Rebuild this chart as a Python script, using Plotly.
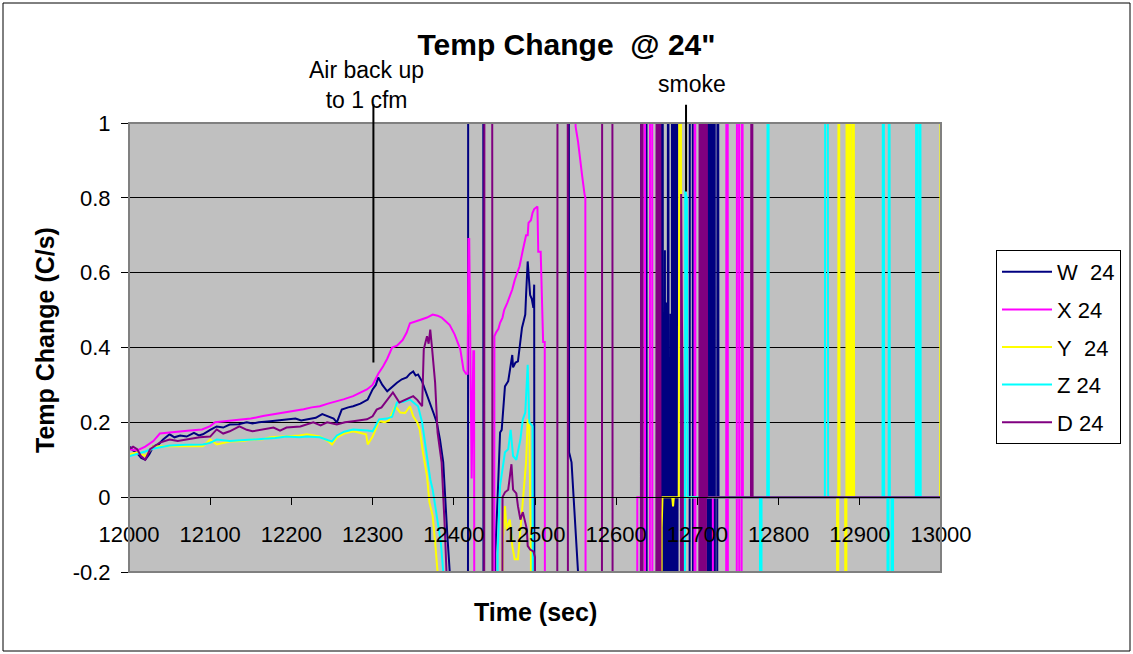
import plotly.graph_objects as go

# (time s, rate C/s); +/-3 marks readings that run off the scale, None breaks the line
W_24 = [
    (12000, 0.136), (12005, 0.125), (12010, 0.118), (12015, 0.105), (12020, 0.100), (12025, 0.115),
    (12030, 0.136), (12036, 0.140), (12042, 0.154), (12050, 0.168), (12056, 0.160), (12063, 0.165),
    (12071, 0.162), (12080, 0.172), (12086, 0.165), (12091, 0.168), (12100, 0.180), (12108, 0.189),
    (12116, 0.186), (12124, 0.194), (12135, 0.195), (12145, 0.200), (12152, 0.197), (12160, 0.200),
    (12174, 0.203), (12185, 0.205), (12194, 0.208), (12205, 0.210), (12212, 0.205), (12219, 0.208),
    (12230, 0.212), (12238, 0.222), (12244, 0.216), (12252, 0.210), (12256, 0.200), (12262, 0.234),
    (12270, 0.240), (12276, 0.243), (12285, 0.250), (12290, 0.255), (12294, 0.261), (12300, 0.288),
    (12304, 0.300), (12307, 0.320), (12312, 0.300), (12318, 0.283), (12324, 0.295), (12330, 0.306),
    (12336, 0.315), (12342, 0.320), (12346, 0.330), (12350, 0.336), (12353, 0.325), (12356, 0.328),
    (12361, 0.309), (12366, 0.280), (12371, 0.253), (12375, 0.225), (12379, 0.200), (12383, 0.154),
    (12387, 0.093), (12389, 0.000), (12392, -0.100), (12395, -0.200), (12397, -3),
    (12417, -3), (12418, 3), (12436, 3), (12437, -3),
    (12450, -3), (12451, -0.150), (12454, 0.000), (12457, 0.173), (12459, 0.180), (12461, 0.253),
    (12463, 0.296), (12467, 0.310), (12470, 0.360), (12472, 0.380), (12473, 0.347), (12476, 0.360),
    (12479, 0.363), (12482, 0.416), (12484, 0.453), (12486, 0.470), (12488, 0.488), (12489, 0.540),
    (12491, 0.630), (12494, 0.540), (12496, 0.530), (12498, 0.506), (12499, 0.568), (12500, -3),
    (12520, None),
    (12541, 3), (12542, 0.120), (12545, 0.093), (12549, -0.040), (12553, -0.200), (12555, -3),
    (12630, -3), (12631, 3), (12637, 3), (12638, -3), (12653, -3), (12654, 3), (12655, 3), (12656, -3),
    (12657, 3), (12658, -3), (12660, 0.66), (12661, -3), (12662, 0.52), (12663, -3), (12664, 3),
    (12665, -3), (12667, 0.49), (12668, -3), (12669, 3), (12670, 3), (12671, -3), (12672, 3),
    (12673, -3), (12675, 3), (12676, -3), (12690, -3), (12691, 3), (12694, 3), (12695, -3),
    (12712, -3), (12713, 3), (12714, -3), (12715, 3), (12716, -3), (12717, 3), (12718, -3),
    (12719, 3), (12720, -3), (12721, 3), (12722, -3), (12724, -3), (12725, 3), (12726, 0),
    (13000, 0),
]

X_24 = [
    (12000, 0.128), (12010, 0.125), (12020, 0.135), (12030, 0.150), (12038, 0.170), (12050, 0.172),
    (12060, 0.175), (12075, 0.178), (12090, 0.181), (12100, 0.190), (12106, 0.200), (12120, 0.203),
    (12135, 0.207), (12150, 0.210), (12165, 0.217), (12180, 0.222), (12194, 0.226), (12205, 0.230),
    (12215, 0.235), (12225, 0.240), (12235, 0.243), (12245, 0.250), (12255, 0.255), (12265, 0.262),
    (12276, 0.270), (12285, 0.280), (12293, 0.288), (12300, 0.300), (12307, 0.330), (12313, 0.350),
    (12318, 0.370), (12324, 0.400), (12330, 0.405), (12337, 0.420), (12342, 0.440), (12346, 0.465),
    (12352, 0.470), (12360, 0.475), (12367, 0.480), (12374, 0.488), (12380, 0.485), (12385, 0.480),
    (12390, 0.470), (12395, 0.460), (12401, 0.435), (12405, 0.410), (12408, 0.395), (12412, 0.340),
    (12415, 0.330), (12417, 0.330), (12418, 0.690), (12419, 0.690), (12420, 0.460), (12422, 0.050),
    (12424, 0.390), (12425, 0.390), (12426, -3),
    (12449, -3), (12450, 0.430), (12452, 0.440), (12455, 0.450), (12457, 0.466), (12460, 0.480),
    (12462, 0.500), (12466, 0.520), (12469, 0.537), (12472, 0.555), (12475, 0.580), (12478, 0.600),
    (12481, 0.617), (12485, 0.660), (12487, 0.680), (12489, 0.700), (12491, 0.700), (12492, 0.733),
    (12495, 0.740), (12497, 0.760), (12499, 0.770), (12502, 0.777), (12503, 0.777), (12504, 0.656),
    (12507, 0.656), (12510, 0.415), (12512, 0.415), (12513, -3),
    (12530, None),
    (12546, 3), (12550, 0.990), (12553, 0.950), (12555, 0.910), (12558, 0.860), (12561, 0.810),
    (12562, 0.800), (12563, -3),
    (12625, -3), (12626, 0), (12632, 0), (12633, 3), (12635, 3), (12636, -3), (12641, -3), (12642, 3),
    (12644, 3), (12645, -3), (12696, -3), (12697, 3), (12698, -3), (12702, -3), (12703, 0),
    (12719, 0), (12720, -3), (12735, -3), (12736, 3), (12737, 3), (12738, -3), (12748, -3),
    (12749, 3), (12751, 3), (12752, -3), (12754, -3), (12755, 3), (12756, 0), (13000, 0),
]

Y_24 = [
    (12000, 0.114), (12010, 0.120), (12020, 0.110), (12030, 0.136), (12050, 0.136), (12070, 0.136),
    (12091, 0.136), (12100, 0.154), (12108, 0.141), (12124, 0.149), (12140, 0.150), (12152, 0.154),
    (12165, 0.155), (12174, 0.160), (12194, 0.162), (12210, 0.165), (12219, 0.168), (12235, 0.162),
    (12245, 0.150), (12250, 0.141), (12256, 0.160), (12265, 0.170), (12276, 0.176), (12285, 0.172),
    (12292, 0.168), (12294, 0.141), (12297, 0.150), (12300, 0.162), (12308, 0.203), (12315, 0.200),
    (12320, 0.205), (12328, 0.243), (12334, 0.226), (12340, 0.225), (12346, 0.243), (12350, 0.216),
    (12355, 0.200), (12358, 0.181), (12362, 0.120), (12367, 0.056), (12370, -0.014), (12374, -0.050),
    (12377, -0.120), (12380, -0.200), (12382, -3),
    (12458, -3), (12460, -0.130), (12463, -0.024), (12465, -0.086), (12469, -0.060), (12472, -0.130),
    (12475, -0.166), (12479, -0.166), (12484, -0.040), (12488, 0.048), (12489, 0.093), (12491, 0.208),
    (12493, 0.190), (12495, -0.160), (12496, -3),
    (12655, -3), (12656, -0.080), (12657, 0), (12669, 0), (12670, -0.025), (12671, 0), (12677, 0),
    (12679, 3), (12680, 0.470), (12681, 0), (12872, 0), (12873, -3), (12874, 3), (12875, 0),
    (12882, 0), (12883, -3), (12884, 3), (12885, 3), (12886, 0), (12887, 0), (12888, 3), (12889, 0),
    (12891, 0), (12892, 3), (12893, 0), (12999, 0), (13000, 3),
]

Z_24 = [
    (12000, 0.109), (12010, 0.115), (12020, 0.122), (12030, 0.130), (12040, 0.135), (12050, 0.138),
    (12070, 0.140), (12091, 0.141), (12100, 0.145), (12108, 0.154), (12124, 0.150), (12140, 0.152),
    (12152, 0.154), (12165, 0.155), (12180, 0.158), (12194, 0.162), (12210, 0.160), (12219, 0.162),
    (12235, 0.160), (12245, 0.152), (12250, 0.149), (12256, 0.165), (12265, 0.175), (12276, 0.181),
    (12285, 0.180), (12294, 0.178), (12300, 0.176), (12308, 0.208), (12318, 0.210), (12324, 0.215),
    (12330, 0.253), (12338, 0.255), (12346, 0.261), (12352, 0.250), (12356, 0.243), (12361, 0.200),
    (12366, 0.128), (12371, 0.048), (12374, 0.020), (12379, -0.050), (12384, -0.120), (12387, -0.200),
    (12389, -3),
    (12452, -3), (12454, -0.150), (12457, 0.030), (12463, 0.120), (12467, 0.128), (12470, 0.180),
    (12473, 0.110), (12477, 0.100), (12482, 0.154), (12485, 0.208), (12488, 0.226), (12490, 0.315),
    (12491, 0.354), (12493, 0.200), (12497, 0.190), (12499, -3),
    (12684, -3), (12685, 0.820), (12687, 0.800), (12688, 0), (12777, 0), (12778, -3), (12779, 0),
    (12786, 0), (12787, 3), (12788, 0), (12857, 0), (12858, 3), (12860, 3), (12861, 0), (12928, 0),
    (12929, 3), (12930, 0), (12934, 0), (12935, -3), (12936, 3), (12937, 0), (12939, 0), (12940, -3),
    (12941, 0), (12969, 0), (12970, 3), (12971, 0), (12973, 0), (12974, 3), (12975, 0), (13000, 0),
]

D_24 = [
    (12000, 0.128), (12005, 0.135), (12010, 0.128), (12015, 0.109), (12020, 0.100), (12026, 0.128),
    (12038, 0.146), (12050, 0.154), (12060, 0.150), (12071, 0.154), (12087, 0.160), (12100, 0.162),
    (12108, 0.181), (12116, 0.170), (12124, 0.176), (12136, 0.189), (12145, 0.180), (12152, 0.176),
    (12165, 0.181), (12178, 0.186), (12186, 0.178), (12194, 0.186), (12211, 0.189), (12220, 0.196),
    (12227, 0.200), (12236, 0.192), (12244, 0.200), (12256, 0.194), (12266, 0.200), (12276, 0.203),
    (12293, 0.208), (12300, 0.216), (12305, 0.234), (12311, 0.240), (12317, 0.256), (12325, 0.280),
    (12333, 0.253), (12342, 0.261), (12350, 0.270), (12355, 0.260), (12361, 0.243), (12363, 0.395),
    (12367, 0.430), (12369, 0.410), (12371, 0.448), (12373, 0.403), (12377, 0.306), (12380, 0.173),
    (12385, 0.093), (12389, -0.087), (12391, -0.200), (12393, -3),
    (12437, -3), (12438, 3), (12447, 3), (12448, -3),
    (12458, -3), (12460, 0.000), (12463, 0.013), (12467, 0.020), (12471, 0.088), (12473, 0.020),
    (12477, 0.010), (12479, -0.024), (12482, -0.060), (12485, -0.040), (12490, -0.086),
    (12491, -0.130), (12494, -0.140), (12498, -0.145), (12500, -0.160), (12501, -3),
    (12527, -3), (12528, 3), (12540, 3), (12541, -3), (12582, -3), (12583, 3), (12595, 3), (12596, -3),
    (12630, -3), (12631, 3), (12632, 3), (12633, -3), (12649, -3), (12650, 3), (12651, -3),
    (12652, 3), (12653, -3), (12654, 3), (12655, -3), (12679, -3), (12680, 0.810), (12681, 0.470),
    (12682, 0.230), (12683, -3), (12702, -3), (12703, 3), (12704, -3), (12705, 3), (12706, -3),
    (12707, 3), (12708, -3), (12709, 3), (12710, -3), (12711, 3), (12712, 0), (12766, 0),
    (12767, 3), (12768, 0), (13000, 0),
]

SERIES = [
    ("W\u00a0\u00a024", W_24, "#000080"),
    ("X 24", X_24, "#FF00FF"),
    ("Y\u00a0\u00a024", Y_24, "#FFFF00"),
    ("Z 24", Z_24, "#00FFFF"),
    ("D 24", D_24, "#800080"),
]

X_TICKS = list(range(12000, 13001, 100))
X_TICK_TEXT = [str(t) for t in X_TICKS]
Y_TICKS = [-0.2, 0, 0.2, 0.4, 0.6, 0.8, 1]
Y_TICK_TEXT = ["-0.2", "0", "0.2", "0.4", "0.6", "0.8", "1"]
Y_RANGE = [-0.2, 1]
X_RANGE = [12000, 13000]

# page geometry (pixels)
FIG_W, FIG_H = 1133, 654
M_L, M_R, M_T, M_B = 129, 192, 123, 82
PW = FIG_W - M_L - M_R
PH = FIG_H - M_T - M_B


def fx(px):
    return (px - M_L) / PW


def fy(py):
    return (FIG_H - M_B - py) / PH


FONT = "Liberation Sans, Arial, sans-serif"

fig = go.Figure()
for i, (name, pts, color) in enumerate(SERIES):
    fig.add_trace(go.Scatter(
        x=[p[0] for p in pts],
        y=[p[1] for p in pts],
        mode="lines",
        name=name,
        legendgroup=f"g{i}",
        line=dict(color=color, width=2),
        connectgaps=False,
        hoverinfo="skip",
    ))

zero_pos = (0 - Y_RANGE[0]) / (Y_RANGE[1] - Y_RANGE[0])

fig.update_layout(
    width=FIG_W, height=FIG_H,
    margin=dict(l=M_L, r=M_R, t=M_T, b=M_B, autoexpand=False),
    paper_bgcolor="white",
    plot_bgcolor="#C0C0C0",
    font=dict(family=FONT, color="black", size=22),
    title=dict(
        text="Temp Change\u00a0\u00a0@ 24\"",
        font=dict(family=FONT, size=30, weight="bold", color="black"),
        x=0.5, xref="container", xanchor="center",
        y=1 - 44 / FIG_H, yref="container", yanchor="middle",
    ),
    xaxis=dict(
        range=X_RANGE, tickvals=X_TICKS, ticktext=X_TICK_TEXT,
        anchor="free", position=zero_pos,
        showgrid=False, zeroline=False,
        showline=True, linecolor="black", linewidth=1,
        ticks="outside", ticklen=7, tickcolor="black", tickwidth=1,
        ticklabelstandoff=10,
        tickfont=dict(family=FONT, size=22, color="black"),
    ),
    yaxis=dict(
        range=Y_RANGE, tickvals=Y_TICKS, ticktext=Y_TICK_TEXT,
        showgrid=True, gridcolor="black", gridwidth=1,
        zeroline=True, zerolinecolor="black", zerolinewidth=1,
        showline=True, linecolor="black", linewidth=1,
        ticks="outside", ticklen=7, tickcolor="black", tickwidth=1,
        ticklabelstandoff=6,
        tickfont=dict(family=FONT, size=22, color="black"),
    ),
    legend=dict(
        x=fx(996), y=fy(250), xanchor="left", yanchor="top",
        bgcolor="white", bordercolor="black", borderwidth=1,
        font=dict(family=FONT, size=22, color="black"),
        tracegroupgap=6, traceorder="grouped", itemwidth=50,
    ),
    showlegend=True,
)

# plot-area frame and the outer chart frame
fig.add_shape(type="rect", xref="paper", yref="paper", x0=0, x1=1, y0=0, y1=1,
              line=dict(color="#808080", width=2), layer="above")
fig.add_shape(type="rect", xref="paper", yref="paper",
              x0=fx(3), x1=fx(1130), y0=fy(651), y1=fy(3),
              line=dict(color="black", width=1), layer="above")

# axis titles
fig.add_annotation(text="Time (sec)", xref="paper", yref="paper", x=0.5, y=fy(612),
                   showarrow=False, xanchor="center", yanchor="middle",
                   font=dict(family=FONT, size=25, weight="bold", color="black"))
fig.add_annotation(text="Temp Change (C/s)", xref="paper", yref="paper", x=fx(45), y=fy(340),
                   showarrow=False, textangle=-90, xanchor="center", yanchor="middle",
                   font=dict(family=FONT, size=25, weight="bold", color="black"))

# event notes with leader lines
fig.add_annotation(x=12301, y=0.36, ax=12301, ay=1.054, axref="x", ayref="y", text="",
                   showarrow=True, arrowhead=0, arrowwidth=2, arrowcolor="black",
                   standoff=0, startstandoff=0)
fig.add_annotation(x=12292, xref="x", y=fy(85), yref="paper", text="Air back up<br>to 1 cfm",
                   showarrow=False, xanchor="center", yanchor="middle",
                   font=dict(family=FONT, size=23, color="black"))
fig.add_annotation(x=12686, y=0.817, ax=12686, ay=1.053, axref="x", ayref="y", text="",
                   showarrow=True, arrowhead=0, arrowwidth=2, arrowcolor="black",
                   standoff=0, startstandoff=0)
fig.add_annotation(x=12693, xref="x", y=fy(84), yref="paper", text="smoke",
                   showarrow=False, xanchor="center", yanchor="middle",
                   font=dict(family=FONT, size=23, color="black"))

fig.write_html("out.html")
